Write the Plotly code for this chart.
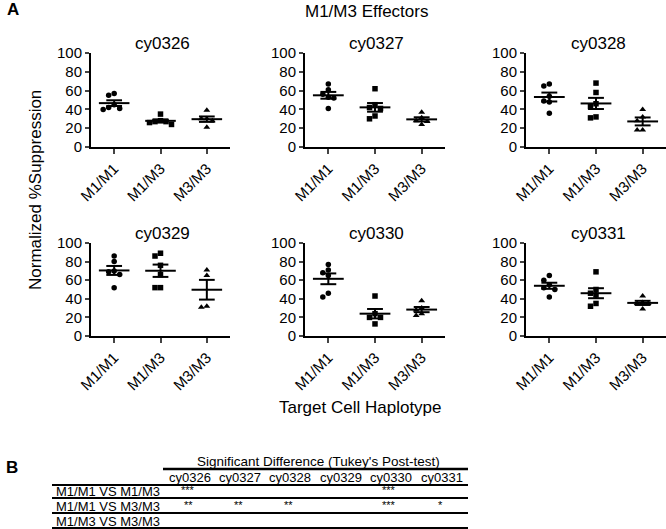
import numpy as np
import plotly.graph_objects as go

W, H = 666, 529
FONT = 'Liberation Sans, Arial, sans-serif'

groups = ['M1/M1', 'M1/M3', 'M3/M3']
donors = ['cy0326', 'cy0327', 'cy0328', 'cy0329', 'cy0330', 'cy0331']

# %suppression per target group (M1/M1, M1/M3, M3/M3)
cy0326 = [[57, 55, 45, 41, 40, 42], [35, 28, 27, 26, 24, 27], [39, 30, 28, 21, 30]]
cy0327 = [[67, 61, 56, 52, 53, 41], [62, 45, 42, 41, 33, 30], [37, 31, 28, 24, 27]]
cy0328 = [[67, 65, 54, 49, 48, 36], [68, 58, 46, 43, 32, 31], [40, 32, 28, 18, 18]]
cy0329 = [[86, 80, 70, 69, 66, 52], [89, 86, 76, 66, 52, 52], [71, 65, 31, 32]]
cy0330 = [[77, 71, 68, 65, 46, 42], [43, 24, 20, 20, 13], [38, 30, 28, 24, 22]]
cy0331 = [[65, 60, 55, 52, 50, 42], [69, 50, 46, 44, 35, 32], [43, 36, 35, 35, 29]]
panel_data = [cy0326, cy0327, cy0328, cy0329, cy0330, cy0331]

# Tukey post-test table
comparisons = ['M1/M1 VS M1/M3', 'M1/M1 VS M3/M3', 'M1/M3 VS M3/M3']
sig_m1m1_m1m3 = ['***', '', '', '', '***', '']
sig_m1m1_m3m3 = ['**', '**', '**', '', '***', '*']
sig_m1m3_m3m3 = ['', '', '', '', '', '']
sig_rows = [sig_m1m1_m1m3, sig_m1m1_m3m3, sig_m1m3_m3m3]

symbols = ['circle', 'square', 'triangle-up']

# pixel boxes of the panels
col_px = [(91, 230), (305, 445), (526, 666)]
row_px = [(53, 147), (243, 336)]


def px(x):
    return x / W


def py(y):
    return 1 - y / H


def swarm(vals, px_per_val, px_per_cat, size):
    vals = np.asarray(vals, dtype=float)
    offs = np.zeros(len(vals))
    placed = []
    step = size / px_per_cat
    for i in np.argsort(-vals):
        for k in [0, -1, 1, -2, 2, -3, 3, -4, 4]:
            dx = k * step
            ok = all(abs(dx - ox) * px_per_cat >= size or
                     abs(vals[i] - ov) * px_per_val >= size
                     for ox, ov in placed)
            if ok:
                break
        offs[i] = dx
        placed.append((dx, vals[i]))
    return offs


fig = go.Figure()
layout = {}
annotations = []

for p, (name, data) in enumerate(zip(donors, panel_data)):
    r, c = divmod(p, 3)
    x0, x1 = col_px[c]
    y0, y1 = row_px[r]
    sfx = '' if p == 0 else str(p + 1)
    xa, ya = 'x' + sfx, 'y' + sfx
    ppv = (y1 - y0) / 100.0
    ppc = (x1 - x0) / 3.0

    mx, my = [], []
    for g, vals in enumerate(data):
        offs = swarm(vals, ppv, ppc, 5.5)
        fig.add_trace(go.Scatter(
            x=g + offs, y=vals, mode='markers', xaxis=xa, yaxis=ya,
            marker=dict(symbol=symbols[g], size=5.5 if g < 2 else 6,
                        color='black'),
            cliponaxis=False, showlegend=False, hoverinfo='y'))
        m = np.mean(vals)
        sem = np.std(vals, ddof=1) / np.sqrt(len(vals))
        mx += [g - 0.33, g + 0.33, None, g - 0.17, g + 0.17, None,
               g - 0.17, g + 0.17, None, g, g, None]
        my += [m, m, None, m + sem, m + sem, None, m - sem, m - sem, None,
               m - sem, m + sem, None]
    fig.add_trace(go.Scatter(x=mx, y=my, mode='lines', xaxis=xa, yaxis=ya,
                             line=dict(color='black', width=2),
                             cliponaxis=False, showlegend=False,
                             hoverinfo='skip'))

    layout['xaxis' + sfx] = dict(
        domain=[px(x0), px(x1)], anchor=ya, range=[-0.5, 2.5],
        automargin=False,
        tickmode='array', tickvals=[0, 1, 2], ticktext=groups,
        tickangle=-45, ticks='outside', ticklen=5, tickwidth=1.5,
        showline=True, linewidth=2, linecolor='black', showgrid=False,
        zeroline=False, tickfont=dict(size=15, color='black', family=FONT))
    layout['yaxis' + sfx] = dict(
        domain=[py(y1), py(y0)], anchor=xa, range=[0, 100],
        automargin=False,
        tickvals=[0, 20, 40, 60, 80, 100], ticks='outside', ticklen=4,
        tickwidth=1.5, showline=True, linewidth=2, linecolor='black',
        showgrid=False, zeroline=False,
        tickfont=dict(size=15, color='black', family=FONT))
    annotations.append(dict(
        text=name, x=px((x0 + x1) / 2 + 2), y=py(y0 - 10), xref='paper',
        yref='paper', showarrow=False, xanchor='center', yanchor='middle',
        font=dict(size=17, color='black', family=FONT)))

annotations += [
    dict(text='<b>A</b>', x=px(5), y=py(10), xanchor='left'),
    dict(text='M1/M3 Effectors', x=px(366), y=py(12), font_size=17),
    dict(text='Normalized %Suppression', x=px(35), y=py(190), textangle=-90,
         font_size=17),
    dict(text='Target Cell Haplotype', x=px(360), y=py(407), font_size=17),
    dict(text='<b>B</b>', x=px(4), y=py(467), xanchor='left'),
    dict(text="Significant Difference (Tukey's Post-test)", x=px(318),
         y=py(461), font_size=13.5),
]

shapes = []


def hline(y, xa, xb, w):
    shapes.append(dict(type='line', xref='paper', yref='paper',
                       x0=px(xa), x1=px(xb), y0=py(y), y1=py(y),
                       line=dict(color='black', width=w)))


col_centers = [190, 240, 290, 341, 391, 442]
hline(469, 163, 468, 2.5)
for name, cx in zip(donors, col_centers):
    annotations.append(dict(text=name, x=px(cx), y=py(477), font_size=13))
hline(485, 52, 468, 2)
row_y = [491, 506, 521]
row_lines = [498, 513, 528]
for lab, sig, ry, ly in zip(comparisons, sig_rows, row_y, row_lines):
    annotations.append(dict(text=lab, x=px(54), y=py(ry), xanchor='left',
                            font_size=13))
    for s, cx in zip(sig, col_centers):
        if s:
            annotations.append(dict(text=s, x=px(cx - 2), y=py(ry - 1),
                                    font_size=11))
    hline(ly, 52, 468, 2)

for a in annotations:
    a.setdefault('xref', 'paper')
    a.setdefault('yref', 'paper')
    a.setdefault('showarrow', False)
    a.setdefault('xanchor', 'center')
    a.setdefault('yanchor', 'middle')
    f = a.pop('font_size', None)
    a.setdefault('font', dict(size=f if f else 17, color='black', family=FONT))

fig.update_layout(
    width=W, height=H, margin=dict(l=0, r=0, t=0, b=0),
    paper_bgcolor='white', plot_bgcolor='white',
    font=dict(family=FONT, color='black'),
    annotations=annotations, shapes=shapes, **layout)

# page has a default 8px body margin; drop it so the figure fills the window
fig.write_html("out.html", config={'displayModeBar': False},
               post_script="document.body.style.margin='0';"
                           "document.body.style.overflow='hidden';")
